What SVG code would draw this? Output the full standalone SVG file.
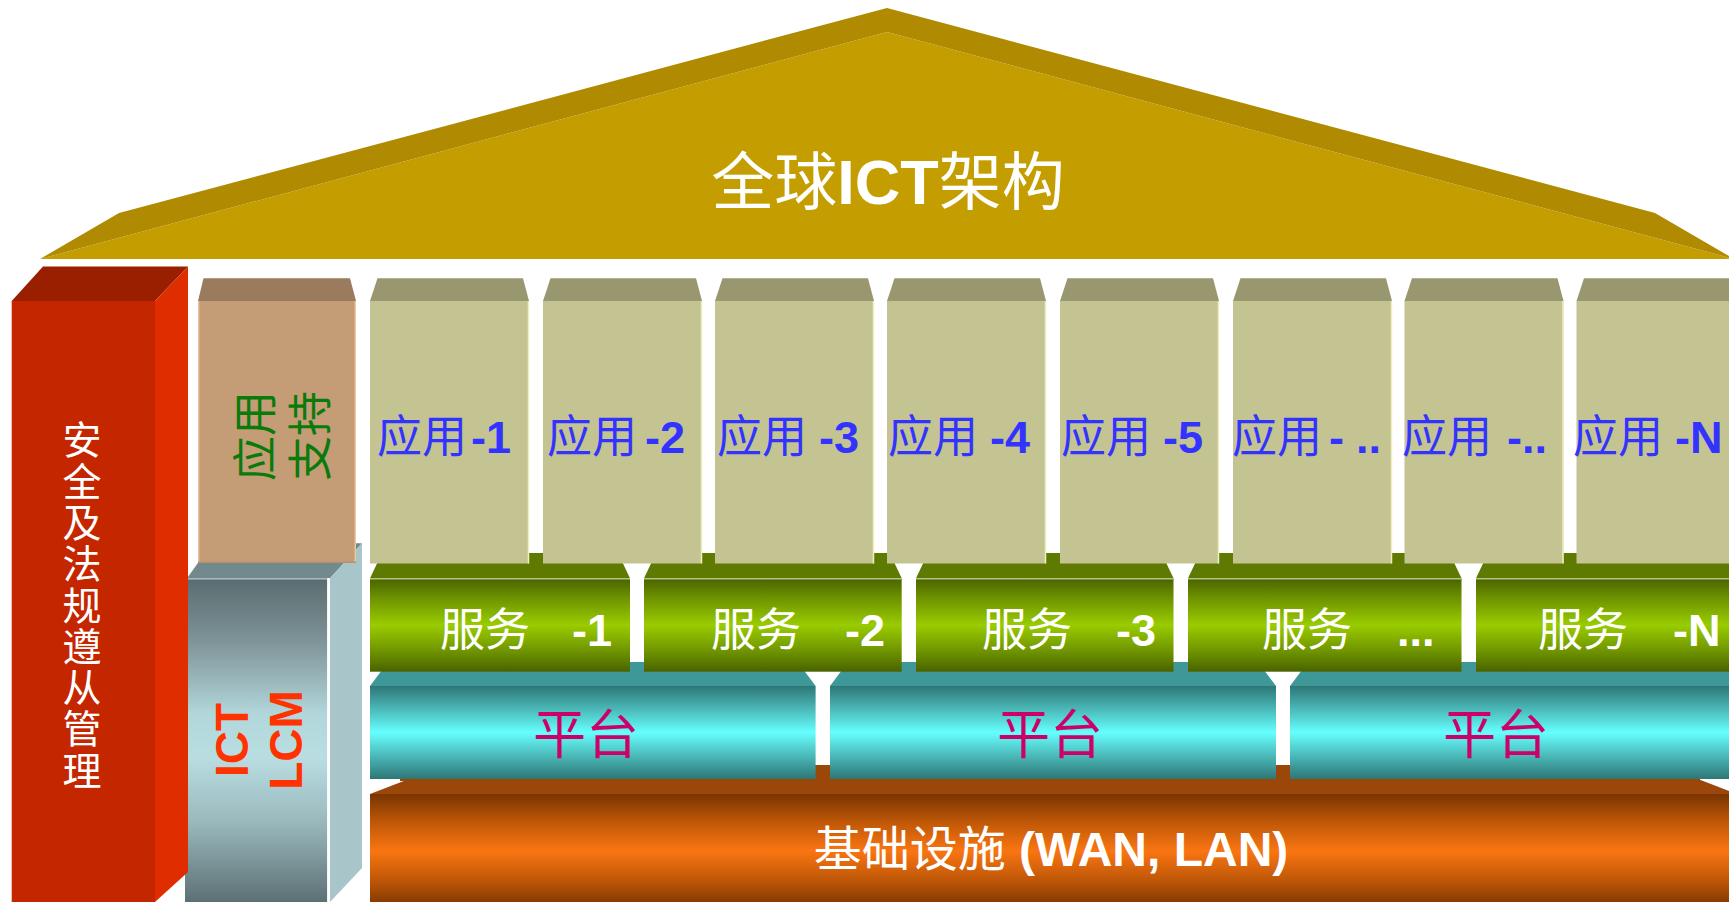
<svg xmlns="http://www.w3.org/2000/svg" width="1729" height="902" viewBox="0 0 1729 902">
<defs>
  <linearGradient id="gSvc" x1="0" y1="0" x2="0" y2="1">
    <stop offset="0" stop-color="#4A6300"/>
    <stop offset="0.22" stop-color="#6F9400"/>
    <stop offset="0.5" stop-color="#99CC00"/>
    <stop offset="0.78" stop-color="#6F9400"/>
    <stop offset="1" stop-color="#4A6200"/>
  </linearGradient>
  <linearGradient id="gPlat" x1="0" y1="0" x2="0" y2="1">
    <stop offset="0" stop-color="#2E7676"/>
    <stop offset="0.25" stop-color="#4BB9B9"/>
    <stop offset="0.5" stop-color="#66FFFF"/>
    <stop offset="0.75" stop-color="#4BB9B9"/>
    <stop offset="1" stop-color="#2E7676"/>
  </linearGradient>
  <linearGradient id="gInfra" x1="0" y1="0" x2="0" y2="1">
    <stop offset="0" stop-color="#783400"/>
    <stop offset="0.25" stop-color="#C05808"/>
    <stop offset="0.5" stop-color="#FA7512"/>
    <stop offset="0.75" stop-color="#C05808"/>
    <stop offset="1" stop-color="#783400"/>
  </linearGradient>
  <linearGradient id="gLcm" x1="0" y1="0" x2="0" y2="1">
    <stop offset="0" stop-color="#5A6C70"/>
    <stop offset="0.2" stop-color="#7F9599"/>
    <stop offset="0.42" stop-color="#B2D7DB"/>
    <stop offset="0.55" stop-color="#B9DEE2"/>
    <stop offset="0.75" stop-color="#9AB9BD"/>
    <stop offset="1" stop-color="#5C7074"/>
  </linearGradient>
</defs>
<style>
  .cjk { font-family: "Noto Sans CJK SC", sans-serif; font-weight: normal; }
  .lat { font-family: "Liberation Sans", Arial, sans-serif; font-weight: bold; }
  .appTop { fill: #989770; }
  .appFront { fill: #C4C492; }
  .appEdge { stroke: #EEEEC4; stroke-width: 1.5; }
  .appTxt { fill: #3333FF; font-size: 45px; }
  .svcTop { fill: #5E7A00; }
  .svcFront { fill: url(#gSvc); }
  .svcLine { stroke: #B4C488; stroke-width: 1.5; }
  .svcTxt { fill: #FFFFFF; font-size: 45px; }
  .platTop { fill: #3E9898; }
  .platFront { fill: url(#gPlat); }
  .platTxt { fill: #CC0066; font-size: 53px; }
  .redTxt { fill: #FFFFFF; font-size: 39px; writing-mode: vertical-rl; letter-spacing: 2.3px; }
</style>
<rect x="0" y="0" width="1729" height="902" fill="#FFFFFF"/>

<g id="roof">
  <polygon points="40,259 887,32 1734,259" fill="#C49E00"/>
  <polygon points="40,259 119,213 887,8 887,32" fill="#B08A00"/>
  <polygon points="887,8 1655,213 1734,259 887,32" fill="#B08A00"/>
  <text x="888" y="204" text-anchor="middle" font-size="63" fill="#FFFFFF"><tspan class="cjk">全球</tspan><tspan class="lat">ICT</tspan><tspan class="cjk">架构</tspan></text>
</g>

<g id="infrastructure">
  <rect x="400" y="765" width="1300" height="16" fill="#9A4709"/>
  <polygon points="370,794 409,779 1698,779 1737,794" fill="#9A4709"/>
  <rect x="370" y="794" width="1370" height="114" fill="url(#gInfra)"/>
  <text x="1051" y="866" text-anchor="middle" font-size="48" fill="#FFFFFF"><tspan class="cjk">基础设施</tspan><tspan class="lat"> (WAN, LAN)</tspan></text>
</g>

<g id="platform-1">
  <polygon class="platTop" points="370,686 388,662 797.6,662 815.6,686"/>
  <rect class="platFront" x="370" y="686" width="445.6" height="93"/>
  <text class="cjk platTxt" x="586" y="754" text-anchor="middle">平台</text>
</g>
<g id="platform-2">
  <polygon class="platTop" points="830,686 848,662 1258,662 1276,686"/>
  <rect class="platFront" x="830" y="686" width="446" height="93"/>
  <text class="cjk platTxt" x="1050" y="754" text-anchor="middle">平台</text>
</g>
<g id="platform-3">
  <polygon class="platTop" points="1290,686 1308,662 1760,662 1778,686"/>
  <rect class="platFront" x="1290" y="686" width="460" height="93"/>
  <text class="cjk platTxt" x="1496" y="754" text-anchor="middle">平台</text>
</g>

<g id="service-1">
  <polygon class="svcTop" points="370,578.3 382,553 618,553 630,578.3"/>
  <rect class="svcFront" x="370" y="578.3" width="260" height="93.4"/>
  <line class="svcLine" x1="370" y1="578.8" x2="630" y2="578.8"/>
  <text class="svcTxt" y="646"><tspan class="cjk" x="440">服务</tspan><tspan class="lat" x="572">-1</tspan></text>
</g>
<g id="service-2">
  <polygon class="svcTop" points="644,578.3 656,553 889.7,553 901.7,578.3"/>
  <rect class="svcFront" x="644" y="578.3" width="257.7" height="93.4"/>
  <line class="svcLine" x1="644" y1="578.8" x2="901.7" y2="578.8"/>
  <text class="svcTxt" y="646"><tspan class="cjk" x="711">服务</tspan><tspan class="lat" x="845">-2</tspan></text>
</g>
<g id="service-3">
  <polygon class="svcTop" points="916,578.3 928,553 1161.5,553 1173.5,578.3"/>
  <rect class="svcFront" x="916" y="578.3" width="257.5" height="93.4"/>
  <line class="svcLine" x1="916" y1="578.8" x2="1173.5" y2="578.8"/>
  <text class="svcTxt" y="646"><tspan class="cjk" x="982">服务</tspan><tspan class="lat" x="1116">-3</tspan></text>
</g>
<g id="service-4">
  <polygon class="svcTop" points="1188,578.3 1200,553 1449.5,553 1461.5,578.3"/>
  <rect class="svcFront" x="1188" y="578.3" width="273.5" height="93.4"/>
  <line class="svcLine" x1="1188" y1="578.8" x2="1461.5" y2="578.8"/>
  <text class="svcTxt" y="646"><tspan class="cjk" x="1262">服务</tspan><tspan class="lat" x="1397">...</tspan></text>
</g>
<g id="service-5">
  <polygon class="svcTop" points="1476,578.3 1488,553 1760,553 1772,578.3"/>
  <rect class="svcFront" x="1476" y="578.3" width="290" height="93.4"/>
  <line class="svcLine" x1="1476" y1="578.8" x2="1729" y2="578.8"/>
  <text class="svcTxt" y="646"><tspan class="cjk" x="1538">服务</tspan><tspan class="lat" x="1673">-N</tspan></text>
</g>

<g id="app-1">
  <polygon class="appTop" points="370,301 377.5,278.3 523,278.3 529,301"/>
  <rect class="appFront" x="370" y="301" width="159" height="262.5"/>
  <line class="appEdge" x1="528.5" y1="301" x2="528.5" y2="563.5"/>
  <text class="appTxt" y="453"><tspan class="cjk" x="377">应用</tspan><tspan class="lat" x="471">-1</tspan></text>
</g>
<g id="app-2">
  <polygon class="appTop" points="543,301 550.5,278.3 696,278.3 702,301"/>
  <rect class="appFront" x="543" y="301" width="159" height="262.5"/>
  <line class="appEdge" x1="701.5" y1="301" x2="701.5" y2="563.5"/>
  <text class="appTxt" y="453"><tspan class="cjk" x="547">应用</tspan><tspan class="lat" x="645">-2</tspan></text>
</g>
<g id="app-3">
  <polygon class="appTop" points="715,301 722.5,278.3 868,278.3 874,301"/>
  <rect class="appFront" x="715" y="301" width="159" height="262.5"/>
  <line class="appEdge" x1="873.5" y1="301" x2="873.5" y2="563.5"/>
  <text class="appTxt" y="453"><tspan class="cjk" x="717">应用</tspan><tspan class="lat" x="819">-3</tspan></text>
</g>
<g id="app-4">
  <polygon class="appTop" points="887,301 894.5,278.3 1040,278.3 1046,301"/>
  <rect class="appFront" x="887" y="301" width="159" height="262.5"/>
  <line class="appEdge" x1="1045.5" y1="301" x2="1045.5" y2="563.5"/>
  <text class="appTxt" y="453"><tspan class="cjk" x="888">应用</tspan><tspan class="lat" x="990">-4</tspan></text>
</g>
<g id="app-5">
  <polygon class="appTop" points="1060,301 1067.5,278.3 1213,278.3 1219,301"/>
  <rect class="appFront" x="1060" y="301" width="159" height="262.5"/>
  <line class="appEdge" x1="1218.5" y1="301" x2="1218.5" y2="563.5"/>
  <text class="appTxt" y="453"><tspan class="cjk" x="1061">应用</tspan><tspan class="lat" x="1163">-5</tspan></text>
</g>
<g id="app-6">
  <polygon class="appTop" points="1233,301 1240.5,278.3 1386,278.3 1392,301"/>
  <rect class="appFront" x="1233" y="301" width="159" height="262.5"/>
  <line class="appEdge" x1="1391.5" y1="301" x2="1391.5" y2="563.5"/>
  <text class="appTxt" y="453"><tspan class="cjk" x="1232">应用</tspan><tspan class="lat" x="1329">-</tspan><tspan class="lat" x="1356">..</tspan></text>
</g>
<g id="app-7">
  <polygon class="appTop" points="1404.5,301 1412,278.3 1557.5,278.3 1563.5,301"/>
  <rect class="appFront" x="1404.5" y="301" width="159" height="262.5"/>
  <line class="appEdge" x1="1563" y1="301" x2="1563" y2="563.5"/>
  <text class="appTxt" y="453"><tspan class="cjk" x="1402">应用</tspan><tspan class="lat" x="1507">-..</tspan></text>
</g>
<g id="app-8">
  <polygon class="appTop" points="1576.5,301 1584,278.3 1740,278.3 1746,301"/>
  <rect class="appFront" x="1576.5" y="301" width="170" height="262.5"/>
  <text class="appTxt" y="453"><tspan class="cjk" x="1573">应用</tspan><tspan class="lat" x="1675">-N</tspan></text>
</g>

<g id="ict-lcm">
  <polygon points="187,578.3 212,543.3 362,543.3 330,578.3" fill="#728A8E"/>
  <polygon points="330,578.3 362,543.3 362,868 330,902" fill="#A8C5C9"/>
  <rect x="185" y="578.3" width="142.3" height="324" fill="url(#gLcm)"/>
  <line x1="185" y1="578.8" x2="327.3" y2="578.8" stroke="#B0C8CC" stroke-width="1.2"/>
  <line x1="328.6" y1="578.3" x2="328.6" y2="902" stroke="#FFFFFF" stroke-width="2.6"/>
  <text transform="translate(258,740) rotate(-90)" text-anchor="middle" font-size="46" fill="#FF3300" class="lat"><tspan x="0" y="-10.5">ICT</tspan><tspan x="0" y="43.5">LCM</tspan></text>
</g>

<g id="app-support">
  <polygon points="198,301 203.5,278.3 350,278.3 356,301" fill="#9A7B5D"/>
  <rect x="198" y="301" width="158" height="262" fill="#C49D77"/>
  <line x1="198.7" y1="301" x2="198.7" y2="563" stroke="#E8C09A" stroke-width="1.4"/>
  <line x1="355.3" y1="301" x2="355.3" y2="563" stroke="#F0C8A0" stroke-width="1.4"/>
  <line x1="198" y1="562.3" x2="356" y2="562.3" stroke="#B89070" stroke-width="1.4"/>
  <text class="cjk" transform="translate(282,436) rotate(-90)" text-anchor="middle" font-size="45" fill="#0A7A0A"><tspan x="0" y="-10">应用</tspan><tspan x="0" y="45">支持</tspan></text>
</g>

<g id="security-compliance">
  <polygon points="11.7,301 43,266.6 188,266.6 155,301" fill="#991F00"/>
  <polygon points="155,301 188,266.6 188,872 155,902" fill="#E02D00"/>
  <rect x="11.7" y="301" width="143.3" height="601" fill="#C42600"/>
  <text class="cjk redTxt" x="82" y="420">安全及法规遵从管理</text>
</g>

<g id="connectors"></g>
</svg>
